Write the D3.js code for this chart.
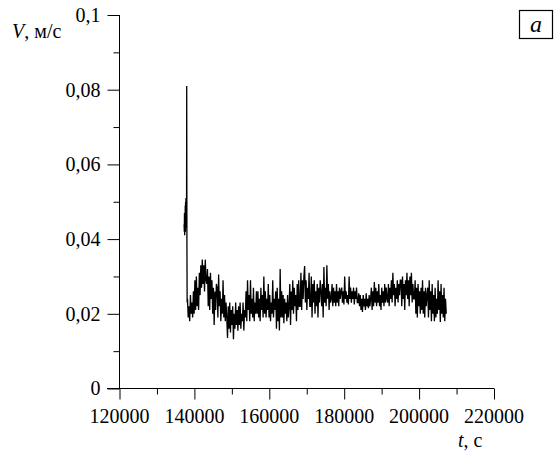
<!DOCTYPE html>
<html><head><meta charset="utf-8">
<script src="https://cdn.jsdelivr.net/npm/d3@7"></script>
<style>
body{margin:0;background:#fff;}
svg text{font-family:"Liberation Serif","Times New Roman","DejaVu Serif",serif !important;fill:#000;}
</style></head>
<body><svg id="c" width="557" height="461"></svg>
<script>
// ---- data ----
const xTicks = [120000,140000,160000,180000,200000,220000];
const yTicks = [0,0.02,0.04,0.06,0.08,0.1];
const yTickLabels = ["0","0,02","0,04","0,06","0,08","0,1"];
const spikeTimes = [137250,137300,137350,137400,137450,137500,137550,137600,137650,137700,137750,137800,137850,137900,137950,138000,138060];
const spikeValues = [0.044,0.042,0.047,0.041,0.046,0.043,0.049,0.042,0.050,0.044,0.051,0.045,0.048,0.043,0.081,0.040,0.023];
const mainStart = 138150;
const mainStep = 198;
const mainValues = [
 0.024,0.019,0.022,0.018,0.025,0.020,0.023,0.019,
 0.026,0.020,0.029,0.021,0.030,0.022,0.027,0.021,
 0.031,0.025,0.033,0.027,0.0345,0.028,0.033,0.026,0.0345,0.029,
 0.028,0.032,0.022,0.030,0.021,0.031,0.024,0.029,0.020,0.027,0.017,0.026,0.021,0.028,
 0.027,0.019,0.0305,0.022,0.026,0.018,0.024,0.020,0.029,0.019,0.025,0.018,0.023,0.019,
 0.0135,0.022,0.016,0.023,0.015,0.021,0.017,0.022,
 0.0132,0.020,0.016,0.023,0.017,0.021,0.0155,0.022,0.017,0.023,0.016,0.020,0.018,0.023,0.0155,0.021,
 0.019,0.026,0.018,0.029,0.021,0.025,0.018,0.029,0.020,0.024,0.019,0.027,0.018,0.023,0.020,0.026,
 0.020,0.026,0.019,0.024,0.018,0.027,0.021,0.025,0.019,0.030,0.020,0.026,0.019,0.024,0.021,0.028,0.019,0.025,0.018,0.023,0.020,0.029,0.019,0.024,0.021,0.026,
 0.016,0.027,0.018,0.024,0.0155,0.032,0.019,0.026,
 0.019,0.025,0.0175,0.024,0.020,0.023,0.018,0.025,0.019,0.022,
 0.028,0.017,0.026,0.021,0.029,0.020,0.027,0.022,0.025,0.018,0.028,0.021,0.029,0.022,
 0.022,0.031,0.021,0.029,0.024,0.030,0.0328,0.023,0.029,0.021,0.027,0.024,0.031,0.022,
 0.022,0.030,0.019,0.028,0.023,0.029,0.020,0.026,0.022,0.028,0.019,0.027,0.023,0.029,
 0.026,0.022,0.028,0.019,0.0325,0.023,0.027,0.022,0.033,0.024,0.028,0.021,0.026,0.023,
 0.024,0.028,0.022,0.027,0.023,0.026,0.022,0.028,0.023,0.026,0.022,0.027,0.024,0.026,
 0.027,0.023,0.026,0.0225,0.030,0.024,0.026,0.023,0.025,0.0225,0.030,0.024,0.027,0.023,0.026,0.024,0.027,0.0225,0.026,0.024,0.027,0.023,
 0.023,0.0255,0.022,0.025,0.021,0.024,0.0205,0.025,0.022,0.024,0.021,0.0255,0.022,0.024,0.0215,0.025,0.022,0.024,
 0.027,0.021,0.026,0.022,0.0285,0.023,0.027,0.022,0.026,0.023,0.028,0.022,0.025,0.021,0.027,0.023,0.026,0.022,0.028,0.023,0.027,0.024,
 0.023,0.028,0.022,0.027,0.024,0.029,0.023,0.031,0.025,0.028,0.022,0.027,0.024,0.029,0.023,0.028,0.025,0.029,
 0.029,0.022,0.030,0.024,0.028,0.021,0.029,0.025,0.031,0.024,0.029,0.022,0.030,0.025,0.031,0.023,0.028,0.024,
 0.024,0.029,0.020,0.027,0.019,0.028,0.022,0.026,0.020,0.027,0.021,0.029,0.020,0.026,0.019,0.027,0.022,0.025,
 0.027,0.019,0.029,0.021,0.026,0.018,0.028,0.020,0.025,0.018,0.027,0.019,0.024,0.020,0.029,0.021,0.026,0.0178,0.028,0.020,0.025,0.019,0.027,0.018,0.024,0.020
];

// ---- build series ----
const series = spikeTimes.map((t,i)=>({t, v:spikeValues[i]}))
  .concat(mainValues.map((v,i)=>({t: mainStart + i*mainStep, v})));

const FONT = '"Liberation Serif","Times New Roman","DejaVu Serif",serif';
const svg = d3.select("#c");
const x = d3.scaleLinear().domain([120000,220000]).range([119.5,494]);
const y = d3.scaleLinear().domain([0,0.1]).range([388.5,15]);

// x axis
const gx = svg.append("g").attr("transform","translate(0,388.5)");
gx.call(d3.axisBottom(x).tickValues(d3.range(120000,220001,10000)).tickSize(6).tickFormat(""));
gx.attr("font-family",FONT);
gx.select(".domain").remove();
gx.selectAll(".tick line").attr("y2",(d)=> d%20000===0 ? 11 : 6).attr("stroke","#000").attr("stroke-width",1);
gx.append("line").attr("x1",107).attr("x2",494).attr("y1",0).attr("y2",0).attr("stroke","#000");
gx.selectAll(".lbl").data(xTicks).enter().append("text")
  .attr("font-family",FONT)
  .attr("x",d=>x(d)).attr("y",34).attr("text-anchor","middle").attr("font-size",20).text(d=>d);

// y axis
const gy = svg.append("g").attr("transform","translate(119.5,0)");
gy.call(d3.axisLeft(y).tickValues(d3.range(0,0.1001,0.01)).tickSize(6).tickFormat(""));
gy.attr("font-family",FONT);
gy.select(".domain").remove();
gy.selectAll(".tick line").attr("x2",(d,i)=> i%2===0 ? -12 : -6).attr("stroke","#000");
gy.append("line").attr("x1",0).attr("x2",0).attr("y1",y(0.1)).attr("y2",y(0)).attr("stroke","#000");
gy.selectAll(".lbl").data(yTicks).enter().append("text")
  .attr("font-family",FONT)
  .attr("x",-19).attr("y",d=>y(d)).attr("dy","0.34em").attr("text-anchor","end").attr("font-size",20)
  .text((d,i)=>yTickLabels[i]);

// axis titles
const yt = svg.append("text").attr("font-family",FONT).attr("x",12).attr("y",38).attr("font-size",20);
yt.append("tspan").attr("font-style","italic").text("V");
yt.append("tspan").text(", м/с");
const xt = svg.append("text").attr("font-family",FONT).attr("x",458).attr("y",447).attr("font-size",20);
xt.append("tspan").attr("font-style","italic").text("t");
xt.append("tspan").text(", с");

// panel label
svg.append("rect").attr("x",519.5).attr("y",10.5).attr("width",33).attr("height",28)
  .attr("fill","none").attr("stroke","#000").attr("stroke-width",1.2);
svg.append("text").attr("font-family",FONT).attr("x",536).attr("y",32).attr("text-anchor","middle")
  .attr("font-size",24).attr("font-style","italic").text("a");

// line
svg.append("path").datum(series)
  .attr("d", d3.line().x(d=>x(d.t)).y(d=>y(d.v)))
  .attr("fill","none").attr("stroke","#000").attr("stroke-width",1.3);
</script></body></html>
